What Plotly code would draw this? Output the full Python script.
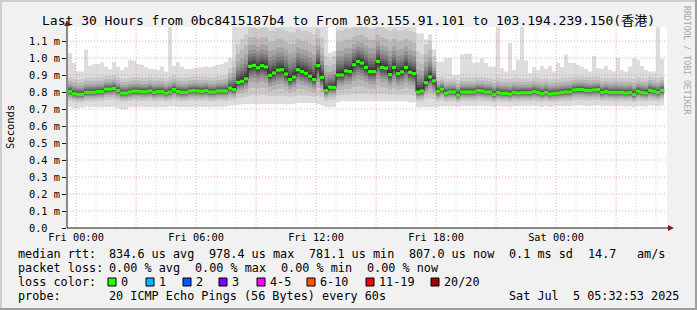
import pandas as pd
import plotly.graph_objects as go

FONT = "DejaVu Sans Mono, Noto Sans CJK SC, monospace"

# ---------------- data ----------------
t_start = pd.Timestamp("2025-07-03 23:32:53")
t_end = pd.Timestamp("2025-07-05 05:32:53")
bin_start = pd.Timestamp("2025-07-03 23:36:00")
bin_minutes = 12

# median RTT per 12-minute bin (ms)
median_ms = [
    0.802, 0.790, 0.786, 0.786, 0.798, 0.798, 0.798, 0.802, 0.802, 0.817,
    0.817, 0.821, 0.808, 0.794, 0.794, 0.800, 0.805, 0.805, 0.802, 0.802,
    0.807, 0.798, 0.802, 0.802, 0.793, 0.800, 0.814, 0.802, 0.798, 0.798,
    0.806, 0.808, 0.806, 0.804, 0.808, 0.800, 0.800, 0.806, 0.806, 0.806,
    0.823, 0.814, 0.857, 0.863, 0.878, 0.951, 0.957, 0.943, 0.955, 0.947,
    0.898, 0.912, 0.929, 0.931, 0.906, 0.873, 0.888, 0.931, 0.920, 0.910,
    0.893, 0.873, 0.955, 0.886, 0.808, 0.829, 0.827, 0.900, 0.900, 0.924,
    0.920, 0.960, 0.980, 0.970, 0.945, 0.920, 0.920, 0.980, 0.945, 0.940,
    0.902, 0.945, 0.908, 0.918, 0.945, 0.916, 0.908, 0.800, 0.806, 0.855,
    0.889, 0.866, 0.804, 0.817, 0.794, 0.800, 0.800, 0.782, 0.800, 0.800,
    0.800, 0.800, 0.808, 0.806, 0.800, 0.800, 0.786, 0.798, 0.792, 0.792,
    0.788, 0.798, 0.794, 0.796, 0.796, 0.796, 0.802, 0.798, 0.790, 0.798,
    0.788, 0.792, 0.794, 0.798, 0.800, 0.800, 0.812, 0.814, 0.814, 0.810,
    0.808, 0.812, 0.814, 0.798, 0.804, 0.798, 0.798, 0.798, 0.798, 0.794,
    0.798, 0.786, 0.804, 0.798, 0.794, 0.810, 0.804, 0.798, 0.810,
]

# slowest ping per bin (ms), top of the lightest smoke
max_ms = [
    1.030, 0.970, 0.920, 0.920, 1.050, 0.955, 0.965, 0.965, 0.975, 0.950,
    0.935, 0.978, 0.950, 0.930, 0.945, 0.990, 0.985, 0.965, 0.960, 0.945,
    0.935, 0.935, 0.930, 0.950, 0.920, 1.200, 0.955, 0.975, 0.950, 0.935,
    0.935, 0.940, 0.945, 0.945, 0.950, 0.945, 0.955, 0.960, 0.965, 0.975,
    1.000, 1.200, 1.200, 1.200, 1.200, 1.200, 1.200, 1.200, 1.200, 1.200,
    1.200, 1.200, 1.200, 1.200, 1.200, 1.200, 1.200, 1.200, 1.200, 1.200,
    1.200, 1.200, 1.200, 1.200, 1.200, 1.030, 1.040, 1.200, 1.200, 1.200,
    1.200, 1.200, 1.200, 1.200, 1.200, 1.200, 1.200, 1.200, 1.200, 1.200,
    1.200, 1.200, 1.200, 1.200, 1.200, 1.200, 1.200, 1.145, 1.145, 1.110,
    1.140, 1.050, 0.980, 0.980, 1.000, 1.000, 0.900, 0.900, 1.020, 1.025,
    1.025, 0.970, 0.975, 1.000, 0.970, 0.950, 0.950, 1.200, 0.940, 0.920,
    1.090, 0.930, 0.990, 1.200, 0.985, 0.910, 0.947, 0.928, 0.955, 0.935,
    0.955, 0.920, 0.970, 0.947, 1.020, 0.970, 0.970, 0.960, 0.947, 0.935,
    0.920, 1.010, 0.940, 0.935, 0.955, 0.930, 0.920, 1.000, 0.930, 0.920,
    0.950, 1.000, 0.990, 0.955, 0.930, 0.920, 0.920, 1.200, 0.995,
]

# fastest ping per bin (ms), bottom of the lightest smoke
min_ms = [
    0.712, 0.705, 0.705, 0.708, 0.715, 0.712, 0.712, 0.710, 0.710, 0.712,
    0.712, 0.710, 0.705, 0.698, 0.698, 0.712, 0.712, 0.710, 0.712, 0.712,
    0.712, 0.712, 0.710, 0.712, 0.712, 0.715, 0.715, 0.712, 0.712, 0.712,
    0.712, 0.710, 0.710, 0.712, 0.712, 0.710, 0.710, 0.712, 0.712, 0.715,
    0.720, 0.720, 0.725, 0.728, 0.730, 0.730, 0.730, 0.728, 0.728, 0.730,
    0.730, 0.730, 0.730, 0.730, 0.728, 0.728, 0.730, 0.735, 0.735, 0.735,
    0.735, 0.735, 0.730, 0.720, 0.710, 0.710, 0.712, 0.740, 0.745, 0.745,
    0.745, 0.745, 0.745, 0.745, 0.745, 0.745, 0.745, 0.745, 0.745, 0.745,
    0.745, 0.745, 0.745, 0.745, 0.745, 0.740, 0.740, 0.710, 0.710, 0.712,
    0.712, 0.712, 0.712, 0.716, 0.716, 0.714, 0.716, 0.712, 0.716, 0.716,
    0.718, 0.716, 0.716, 0.718, 0.716, 0.716, 0.712, 0.716, 0.714, 0.714,
    0.712, 0.716, 0.716, 0.716, 0.716, 0.716, 0.718, 0.716, 0.712, 0.716,
    0.712, 0.714, 0.716, 0.716, 0.718, 0.716, 0.720, 0.720, 0.720, 0.718,
    0.718, 0.720, 0.720, 0.716, 0.718, 0.716, 0.716, 0.716, 0.716, 0.714,
    0.716, 0.710, 0.716, 0.716, 0.714, 0.720, 0.718, 0.716, 0.720,
]

# second-slowest / second-fastest ping per bin (ms)
hi_ms = [
    0.885, 0.880, 0.875, 0.875, 0.885, 0.885, 0.885, 0.888, 0.888, 0.895,
    0.895, 0.900, 0.890, 0.880, 0.880, 0.885, 0.888, 0.888, 0.885, 0.885,
    0.890, 0.885, 0.885, 0.885, 0.880, 0.890, 0.895, 0.888, 0.885, 0.885,
    0.890, 0.892, 0.890, 0.890, 0.892, 0.888, 0.888, 0.892, 0.895, 0.900,
    0.940, 0.990, 1.080, 1.110, 1.140, 1.180, 1.180, 1.170, 1.180, 1.180,
    1.160, 1.160, 1.170, 1.170, 1.160, 1.150, 1.150, 1.170, 1.160, 1.160,
    1.150, 1.140, 1.170, 1.120, 1.010, 0.990, 1.010, 1.160, 1.160, 1.170,
    1.170, 1.180, 1.190, 1.190, 1.180, 1.170, 1.170, 1.190, 1.180, 1.170,
    1.160, 1.170, 1.160, 1.160, 1.170, 1.160, 1.150, 1.040, 1.020, 1.080,
    1.100, 1.010, 0.885, 0.890, 0.880, 0.880, 0.880, 0.870, 0.885, 0.885,
    0.885, 0.885, 0.888, 0.888, 0.885, 0.882, 0.875, 0.885, 0.880, 0.880,
    0.878, 0.882, 0.880, 0.880, 0.880, 0.880, 0.885, 0.882, 0.878, 0.882,
    0.876, 0.878, 0.880, 0.882, 0.885, 0.885, 0.890, 0.892, 0.892, 0.890,
    0.888, 0.890, 0.892, 0.882, 0.885, 0.882, 0.882, 0.882, 0.882, 0.880,
    0.882, 0.876, 0.885, 0.882, 0.880, 0.890, 0.886, 0.882, 0.890,
]
lo_ms = [
    0.748, 0.742, 0.740, 0.740, 0.746, 0.746, 0.746, 0.748, 0.748, 0.755,
    0.755, 0.756, 0.750, 0.742, 0.742, 0.747, 0.750, 0.750, 0.748, 0.748,
    0.750, 0.746, 0.748, 0.748, 0.744, 0.748, 0.754, 0.748, 0.746, 0.746,
    0.750, 0.750, 0.750, 0.749, 0.750, 0.746, 0.746, 0.750, 0.750, 0.750,
    0.755, 0.752, 0.765, 0.768, 0.772, 0.780, 0.782, 0.780, 0.782, 0.780,
    0.775, 0.778, 0.780, 0.780, 0.776, 0.772, 0.775, 0.782, 0.780, 0.778,
    0.776, 0.772, 0.780, 0.770, 0.748, 0.755, 0.755, 0.780, 0.782, 0.785,
    0.785, 0.788, 0.790, 0.790, 0.788, 0.785, 0.785, 0.790, 0.788, 0.786,
    0.782, 0.786, 0.782, 0.784, 0.786, 0.782, 0.780, 0.745, 0.746, 0.760,
    0.765, 0.758, 0.746, 0.752, 0.744, 0.746, 0.746, 0.738, 0.746, 0.746,
    0.746, 0.746, 0.750, 0.748, 0.746, 0.746, 0.740, 0.745, 0.743, 0.743,
    0.741, 0.745, 0.744, 0.745, 0.745, 0.745, 0.747, 0.745, 0.742, 0.745,
    0.741, 0.743, 0.744, 0.745, 0.746, 0.746, 0.752, 0.753, 0.753, 0.751,
    0.750, 0.752, 0.753, 0.745, 0.748, 0.745, 0.745, 0.745, 0.745, 0.744,
    0.745, 0.740, 0.748, 0.745, 0.744, 0.751, 0.748, 0.745, 0.751,
]

y_tick_vals = [0.0, 0.1, 0.2, 0.3, 0.4, 0.5, 0.6, 0.7, 0.8, 0.9, 1.0, 1.1]
y_tick_text = ["0.0\u00a0\u00a0", "0.1 m", "0.2 m", "0.3 m", "0.4 m", "0.5 m", "0.6 m",
               "0.7 m", "0.8 m", "0.9 m", "1.0 m", "1.1 m"]
x_label_times = ["2025-07-04 00:00", "2025-07-04 06:00", "2025-07-04 12:00",
                 "2025-07-04 18:00", "2025-07-05 00:00"]
x_label_text = ["Fri 00:00", "Fri 06:00", "Fri 12:00", "Fri 18:00", "Sat 00:00"]

title_text = "Last 30 Hours from 0bc8415187b4 to From 103.155.91.101 to 103.194.239.150(香港)"

legend_rows = [
    [("median rtt:", 16), ("834.6 us avg", 107), ("978.4 us max", 207), ("781.1 us min", 307),
     ("807.0 us now", 407), ("0.1 ms sd", 507), ("14.7", 586), ("am/s", 635)],
    [("packet loss:", 16), ("0.00 % avg", 107), ("0.00 % max", 193), ("0.00 % min", 279),
     ("0.00 % now", 365)],
    [("loss color:", 16)],
    [("probe:", 16), ("20 ICMP Echo Pings (56 Bytes) every 60s", 107)],
]
loss_labels = ["0", "1", "2", "3", "4-5", "6-10", "11-19", "20/20"]
loss_colors = ["#26ff00", "#00b8ff", "#0059ff", "#7e00ff", "#ff00ff", "#ff5500", "#ff0000", "#a10000"]
loss_box_x = [108, 146, 183, 219, 257, 307, 366, 431]
stamp_text = "Sat Jul  5 05:32:53 2025"

smoke_shades = [221, 202, 183, 164, 145, 126, 107, 88, 69, 50]
smoke_fracs = [None, 1.0, 0.75, 0.55, 0.42, 0.32, 0.24, 0.17, 0.11, 0.06]

# ---------------- geometry ----------------
W, H = 697, 310
L, R, T, B = 67, 30, 27, 82
PW, PH = W - L - R, H - T - B
Y_TOP = 1.1824


def px(x, y):
    return (x - L) / PW, (H - B - y) / PH


def nb(s):
    return s.replace(" ", "\u00a0")


n = len(median_ms)
edges = [bin_start + pd.Timedelta(minutes=bin_minutes * k) for k in range(n + 1)]
xs = [e.strftime("%Y-%m-%d %H:%M:%S") for e in edges]

fig = go.Figure()

for li, shade in enumerate(smoke_shades):
    if li == 0:
        low = list(min_ms)
        up = [min(v, Y_TOP + 0.05) for v in max_ms]
    else:
        f = smoke_fracs[li]
        up = [m + (min(h, t) - m) * f for m, h, t in zip(median_ms, hi_ms, max_ms)]
        low = [m - (m - lo) * f for m, lo in zip(median_ms, lo_ms)]
    col = "rgb(%d,%d,%d)" % (shade, shade, shade)
    fig.add_trace(go.Scatter(x=xs, y=low + [low[-1]], mode="lines", line=dict(width=0, shape="hv"),
                             hoverinfo="skip", showlegend=False))
    fig.add_trace(go.Scatter(x=xs, y=up + [up[-1]], mode="lines", line=dict(width=0, shape="hv"),
                             fill="tonexty", fillcolor=col, hoverinfo="skip", showlegend=False))

# thin dark median connector
fig.add_trace(go.Scatter(x=xs, y=median_ms + [median_ms[-1]], mode="lines",
                         line=dict(color="#202020", width=1, shape="hv"),
                         hoverinfo="skip", showlegend=False))
# loss-coloured median segments
gx, gy = [], []
for k, m in enumerate(median_ms):
    gx += [xs[k], xs[k + 1], None]
    gy += [m, m, None]
fig.add_trace(go.Scatter(x=gx, y=gy, mode="lines", line=dict(color=loss_colors[0], width=3.2),
                         hoverinfo="skip", showlegend=False))

shapes = []
# grid (drawn over the smoke, as rrdtool does)
grid_minor = "rgba(143,143,143,0.35)"
grid_major = "rgba(230,60,60,0.45)"
hour = pd.Timestamp("2025-07-04 00:00")
while hour <= t_end:
    hrs = int((hour - pd.Timestamp("2025-07-04 00:00")).total_seconds() // 3600)
    major = hrs % 3 == 0
    shapes.append(dict(type="line", xref="x", yref="paper", x0=hour.strftime("%Y-%m-%d %H:%M:%S"),
                       x1=hour.strftime("%Y-%m-%d %H:%M:%S"), y0=0, y1=1,
                       line=dict(color=grid_major if major else grid_minor, width=1, dash="1px,2px"),
                       layer="above"))
    hour += pd.Timedelta(hours=1)
for v in y_tick_vals[1:]:
    shapes.append(dict(type="line", xref="paper", yref="y", x0=0, x1=1, y0=v, y1=v,
                       line=dict(color=grid_major, width=1, dash="1px,2px"), layer="above"))

# axes with arrows
ax0 = px(67, 228)
ax1 = px(670, 228)
shapes.append(dict(type="line", xref="paper", yref="paper", x0=ax0[0], y0=ax0[1], x1=ax1[0], y1=ax1[1],
                   line=dict(color="#1a1a1a", width=1), layer="above"))
ay1 = px(67, 24)
shapes.append(dict(type="line", xref="paper", yref="paper", x0=ax0[0], y0=ax0[1], x1=ay1[0], y1=ay1[1],
                   line=dict(color="#1a1a1a", width=1), layer="above"))


def tri(pts):
    p = [px(a, b) for a, b in pts]
    return "M %f %f L %f %f L %f %f Z" % (p[0][0], p[0][1], p[1][0], p[1][1], p[2][0], p[2][1])


shapes.append(dict(type="path", xref="paper", yref="paper", path=tri([(668, 225), (668, 231), (674, 228)]),
                   fillcolor="#8b1a1a", line=dict(width=0), layer="above"))
shapes.append(dict(type="path", xref="paper", yref="paper", path=tri([(64, 26), (70, 26), (67, 20)]),
                   fillcolor="#8b1a1a", line=dict(width=0), layer="above"))

# frame shading
f0 = px(0, 0)
f1 = px(W, H)
shapes.append(dict(type="line", xref="paper", yref="paper", x0=f0[0], x1=f1[0], y0=px(0, 1)[1], y1=px(0, 1)[1],
                   line=dict(color="#cfcfcf", width=2)))
shapes.append(dict(type="line", xref="paper", yref="paper", x0=px(1, 0)[0], x1=px(1, 0)[0], y0=f0[1], y1=f1[1],
                   line=dict(color="#cfcfcf", width=2)))
shapes.append(dict(type="line", xref="paper", yref="paper", x0=f0[0], x1=f1[0], y0=px(0, H - 1)[1],
                   y1=px(0, H - 1)[1], line=dict(color="#9e9e9e", width=2)))
shapes.append(dict(type="line", xref="paper", yref="paper", x0=px(W - 1, 0)[0], x1=px(W - 1, 0)[0],
                   y0=f0[1], y1=f1[1], line=dict(color="#9e9e9e", width=2)))

# loss colour boxes
for bx, c in zip(loss_box_x, loss_colors):
    p0 = px(bx, 278)
    p1 = px(bx + 8, 286)
    shapes.append(dict(type="rect", xref="paper", yref="paper", x0=p0[0], y0=p0[1], x1=p1[0], y1=p1[1],
                       fillcolor=c, line=dict(color="#000000", width=1)))

annotations = []
row_y = [254, 268, 282, 296]
for row, yy in zip(legend_rows, row_y):
    for txt, xx in row:
        p = px(xx, yy)
        annotations.append(dict(xref="paper", yref="paper", x=p[0], y=p[1], text=nb(txt), showarrow=False,
                                xanchor="left", yanchor="middle", font=dict(family=FONT, size=11.8, color="#000")))
for bx, lab in zip(loss_box_x, loss_labels):
    p = px(bx + 11, 282)
    annotations.append(dict(xref="paper", yref="paper", x=p[0], y=p[1], text=nb(lab), showarrow=False,
                            xanchor="left", yanchor="middle", font=dict(family=FONT, size=11.8, color="#000")))
p = px(681, 296)
annotations.append(dict(xref="paper", yref="paper", x=p[0], y=p[1], text=nb(stamp_text), showarrow=False,
                        xanchor="right", yanchor="middle", font=dict(family=FONT, size=11.8, color="#000")))
p = px(10, 127)
annotations.append(dict(xref="paper", yref="paper", x=p[0], y=p[1], text="Seconds", showarrow=False,
                        textangle=-90, xanchor="center", yanchor="middle",
                        font=dict(family=FONT, size=10.5, color="#000")))
p = px(687, 60)
annotations.append(dict(xref="paper", yref="paper", x=p[0], y=p[1], text=nb("RRDTOOL / TOBI OETIKER"),
                        showarrow=False, textangle=90, xanchor="center", yanchor="middle",
                        font=dict(family=FONT, size=8.2, color="#a8a8a8")))
p = px(348, 21)
annotations.append(dict(xref="paper", yref="paper", x=p[0], y=p[1], text=nb(title_text), showarrow=False,
                        xanchor="center", yanchor="middle", font=dict(family=FONT, size=13, color="#000")))

fig.update_layout(
    width=W, height=H,
    margin=dict(l=L, r=R, t=T, b=B, pad=0),
    paper_bgcolor="#f1f1f1", plot_bgcolor="#ffffff",
    showlegend=False,
    shapes=shapes, annotations=annotations,
    xaxis=dict(type="date", range=[t_start.strftime("%Y-%m-%d %H:%M:%S"), t_end.strftime("%Y-%m-%d %H:%M:%S")],
               tickvals=x_label_times, ticktext=x_label_text, showgrid=False, zeroline=False,
               showline=False, ticks="", ticklabelstandoff=2,
               tickfont=dict(family=FONT, size=10.3, color="#000"), fixedrange=True),
    yaxis=dict(range=[0, Y_TOP], tickvals=y_tick_vals, ticktext=y_tick_text, showgrid=False,
               zeroline=False, showline=False, ticks="outside", ticklen=4, tickcolor="#1a1a1a",
               tickfont=dict(family=FONT, size=10.3, color="#000"), fixedrange=True),
)

fig.write_html("out.html")
